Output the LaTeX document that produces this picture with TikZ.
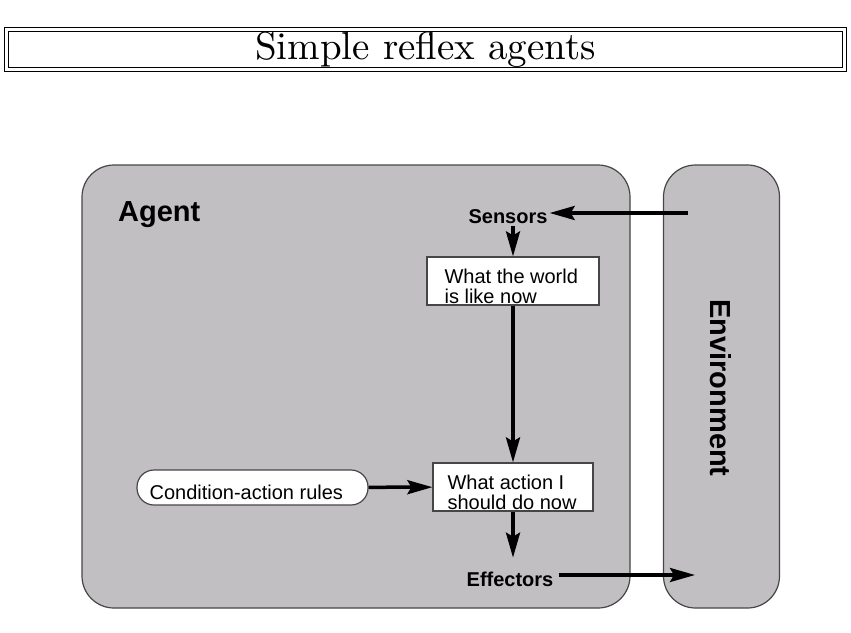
\documentclass[tikz,border=0pt]{standalone}
\usepackage{fontspec}
\newfontfamily\arialfont{Liberation Sans}
\usepackage{xcolor}
\usepackage{graphicx}
\usetikzlibrary{arrows.meta,positioning}
\definecolor{panelgray}{RGB}{193,191,194}
\definecolor{edgegray}{RGB}{70,70,70}
\tikzset{
    >={Stealth[length=25pt,width=14pt,inset=4pt]},
    panel/.style={draw=edgegray,line width=1.2pt,fill=panelgray,rounded corners=32pt},
    state box/.style={draw=edgegray,line width=1.2pt,fill=white},
    rule box/.style={draw=edgegray,line width=1.2pt,fill=white,rounded corners=17pt},
    box text/.style={font=\arialfont\fontsize{20}{19.5}\selectfont,align=left,inner sep=0pt},
    io label/.style={font=\arialfont\bfseries\fontsize{20}{24}\selectfont,inner sep=2pt},
    big label/.style={font=\arialfont\bfseries\fontsize{29}{34}\selectfont,inner sep=2pt},
    flow/.style={->,line width=3.5pt}
}
\begin{document}
\begin{tikzpicture}[x=1pt,y=-1pt]
    \useasboundingbox (0,0) rectangle (851,632);
    % title frame
    \node[draw,double,line width=1pt,double distance=3pt,minimum width=838pt,minimum height=40pt,inner sep=0pt] (title) at (425.5,49.5) {\scalebox{3.9}{Simple reflex agents}};
    % agent and environment
    \node[panel,minimum width=548pt,minimum height=443pt] (agent) at (356,386.5) {};
    \node[panel,minimum width=116pt,minimum height=443pt] (env) at (721.5,386.5) {};
    \node[big label,anchor=base west] (agentname) at (116,221) {Agent};
    \node[big label,rotate=-90] (envname) at (720.5,388) {Environment};
    \node[io label] (sensors) at (508,217) {Sensors};
    \node[io label,inner xsep=5pt,outer ysep=12pt] (effectors) at (510,579) {Effectors};
    % boxes inside the agent
    \node[state box,minimum width=172pt,minimum height=48pt] (world) at (513,281) {};
    \node[box text,below right=12.5pt and 18pt of world.north west] (worldtext) {What the world\\is like now};
    \node[state box,minimum width=160pt,minimum height=48pt] (action) at (513,487) {};
    \node[box text,below right=12.4pt and 15pt of action.north west,font=\arialfont\fontsize{20}{20}\selectfont] (actiontext) {What action I\\should do now};
    \node[rule box,minimum width=231pt,minimum height=35pt] (rules) at (252.5,487.5) {};
    \node[box text,below right=15.4pt and 13pt of rules.north west] (rulestext) {Condition-action rules};
    % connections
    \coordinate (percept) at (688,213);
    \coordinate (act) at (695,575);
    \draw[flow] (percept) -- (percept -| sensors.east);
    \draw[flow] (sensors.south -| world.north) -- (world.north);
    \draw[flow] (world) -- (action);
    \draw[flow] (rules) -- (action);
    \draw[flow] (action.south) -- (action.south |- effectors.north);
    \draw[flow] (effectors.east |- act) -- (act);
\end{tikzpicture}
\end{document}
